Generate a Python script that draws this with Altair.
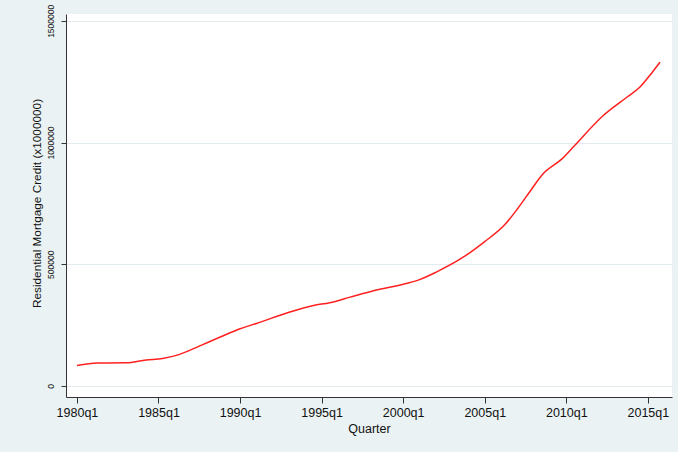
import altair as alt
import pandas as pd

quarters = [
    "1980q1", "1981q2", "1983q1", "1984q2", "1985q2", "1986q2", "1987q3",
    "1988q4", "1990q1", "1991q1", "1993q1", "1994q3", "1995q3", "1996q4",
    "1998q3", "2000q2", "2001q1", "2002q1", "2003q4", "2005q1", "2006q2",
    "2007q1", "2007q4", "2008q3", "2009q4", "2010q3", "2012q2", "2013q4",
    "2014q3", "2015q2", "2015q4",
]
credit = [
    84000, 94000, 95000, 107000, 113000, 129000, 164000,
    200000, 235000, 257000, 303000, 331000, 342000, 365000,
    396000, 422000, 437000, 467000, 532000, 593000, 664000,
    727000, 797000, 866000, 934000, 987000, 1110000, 1188000,
    1227000, 1287000, 1330000,
]
x_ticks = [1980, 1985, 1990, 1995, 2000, 2005, 2010, 2015]
y_ticks = [0, 500000, 1000000, 1500000]


def quarter_to_num(q):
    y, qq = q.split("q")
    return int(y) + (int(qq) - 1) / 4.0


df = pd.DataFrame({
    "quarter": quarters,
    "t": [quarter_to_num(q) for q in quarters],
    "credit": credit,
})

FONT = "Liberation Sans"
BG = "#EAF2F3"

chart = (
    alt.Chart(df)
    .mark_line(color="#FF2020", strokeWidth=1.5, interpolate="monotone")
    .encode(
        x=alt.X(
            "t:Q",
            title="Quarter",
            scale=alt.Scale(domain=[1979.33, 2016.48], nice=False, zero=False),
            axis=alt.Axis(
                values=x_ticks,
                labelExpr="format(datum.value, 'd') + 'q1'",
                grid=False,
                tickSize=6,
                labelPadding=3,
                labelFontSize=12.5,
                titleFontSize=12.5,
                titlePadding=4,
                labelFlush=False,
            ),
        ),
        y=alt.Y(
            "credit:Q",
            title="Residential Mortgage Credit (x1000000)",
            scale=alt.Scale(domain=[-45200, 1528000], nice=False, zero=False),
            axis=alt.Axis(
                values=y_ticks,
                format="d",
                labelAngle=270,
                labelAlign="center",
                labelBaseline="bottom",
                labelPadding=6,
                labelFontSize=8.5,
                tickSize=5,
                grid=True,
                gridColor="#E3ECEE",
                gridWidth=1,
                titleFontSize=11.8,
                titleAngle=270,
                titleX=-30,
                titleY=189,
                titleAlign="center",
                titleBaseline="middle",
                labelFlush=False,
            ),
        ),
        tooltip=["quarter", "credit"],
    )
    .properties(
        width=606,
        height=383,
        autosize=alt.AutoSizeParams(type="none"),
        padding={"left": 66, "top": 14, "right": 6, "bottom": 55},
        background=BG,
    )
    .configure_view(fill="white", stroke=None)
    .configure_axis(
        domainColor="#333333",
        tickColor="#333333",
        labelColor="#111111",
        titleColor="#111111",
        labelFont=FONT,
        titleFont=FONT,
        titleFontWeight="normal",
        domainWidth=1,
        tickWidth=1,
    )
)

chart.save("out.html", embed_options={"renderer": "svg", "actions": False})
